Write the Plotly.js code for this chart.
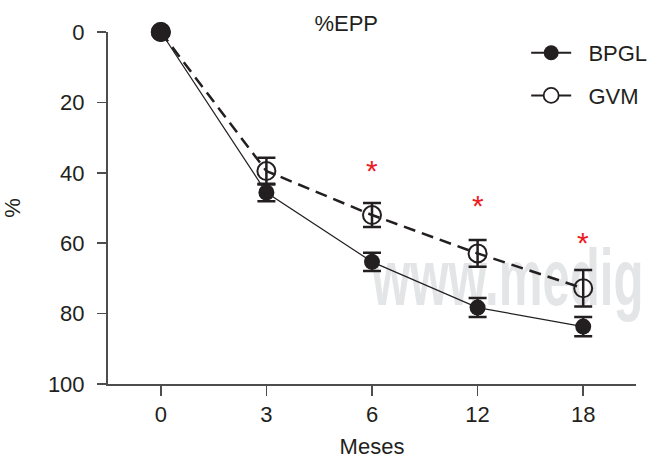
<!DOCTYPE html>
<html>
<head>
<meta charset="utf-8">
<script src="https://cdn.plot.ly/plotly-3.0.1.min.js"></script>
<style>html,body{margin:0;padding:0;background:#fff;}#chart{width:652px;height:462px;}</style>
</head>
<body>
<div id="chart"></div>
<script>
// ---- data ----
const months = ['0', '3', '6', '12', '18'];
const bpgl = [0, 45.6, 65.3, 78.3, 83.7];
const bpglErr = [0, 2.5, 2.6, 2.7, 2.7];
const gvm = [0, 39.5, 52.0, 62.9, 72.8];
const gvmErr = [0, 3.8, 3.4, 3.8, 5.2];
const sigMonths = ['6', '12', '18'];
const sigY = [39.3, 49.2, 59.8];
const seriesNames = ['BPGL', 'GVM'];
const watermark = 'www.medig';

const xi = months.map((m, i) => i);
const sigX = sigMonths.map(m => months.indexOf(m));
const ink = '#231f20';
const fam = '"Liberation Sans", Arial, Helvetica, sans-serif';
const nb = '\u00a0\u00a0';

const traces = [
  {
    x: [2.0], y: [72], mode: 'text', text: [watermark],
    textposition: 'middle right',
    textfont: {family: '"Liberation Sans", Arial, sans-serif', size: 80, color: '#e4e5e6', weight: 'bold'},
    cliponaxis: false, showlegend: false, hoverinfo: 'skip'
  },
  {
    name: seriesNames[1], x: xi, y: gvm, mode: 'lines+markers', showlegend: false,
    line: {color: ink, width: 2.5, dash: '12px,7px'},
    marker: {symbol: 'circle-open', size: 18, color: ink, opacity: 1, line: {width: 2, color: ink}},
    error_y: {type: 'data', array: gvmErr, visible: true, color: ink, thickness: 2.5, width: 9},
    cliponaxis: false
  },
  {
    name: seriesNames[0], x: xi, y: bpgl, mode: 'lines+markers', showlegend: false,
    line: {color: ink, width: 1.2},
    marker: {symbol: 'circle', size: [20, 16, 16, 16, 16], color: ink, opacity: 1, line: {width: 0}},
    error_y: {type: 'data', array: bpglErr, visible: true, color: ink, thickness: 2.5, width: 9},
    cliponaxis: false
  },
  // legend entries (solid short line through the marker, as in the reference key)
  {
    name: nb + seriesNames[0], legendgroup: 'b', legendrank: 1, x: [null], y: [null], mode: 'lines+markers',
    line: {color: ink, width: 2},
    marker: {symbol: 'circle', size: 15, color: ink, opacity: 1, line: {width: 0}}
  },
  {
    name: nb + seriesNames[1], legendgroup: 'g', legendrank: 2, x: [null], y: [null], mode: 'lines+markers',
    line: {color: ink, width: 2},
    marker: {symbol: 'circle', size: 15, color: '#ffffff', opacity: 1, line: {width: 1.8, color: ink}}
  }
];

const layout = {
  width: 652, height: 462,
  margin: {l: 108, r: 16, t: 32, b: 78, autoexpand: false},
  paper_bgcolor: '#fff', plot_bgcolor: 'rgba(0,0,0,0)',
  font: {family: fam, size: 22, color: ink},
  title: {text: '%EPP', x: 0.531, xref: 'container', xanchor: 'center', y: 0.95, yref: 'container', yanchor: 'middle', font: {size: 22, color: ink}},
  xaxis: {
    range: [-0.5, 4.5], tickmode: 'array', tickvals: xi, ticktext: months,
    showgrid: false, zeroline: false, showline: true, linecolor: '#4d4d4d', linewidth: 2,
    ticks: 'outside', ticklen: 10, tickwidth: 1.5, tickcolor: '#4d4d4d',
    tickfont: {size: 22, color: ink},
    title: {text: 'Meses', font: {size: 22, color: ink}, standoff: 12}
  },
  yaxis: {
    range: [100, 0], tickvals: [0, 20, 40, 60, 80, 100],
    showgrid: false, zeroline: false, showline: true, linecolor: '#4d4d4d', linewidth: 2,
    ticks: 'outside', ticklen: 9, tickwidth: 1.5, tickcolor: '#4d4d4d',
    tickfont: {size: 22, color: ink}, ticklabelstandoff: 8,
    title: {text: '%', font: {size: 22, color: ink}, standoff: 30}
  },
  legend: {
    x: 0.792, xanchor: 'left', y: 1.0, yanchor: 'top',
    traceorder: 'grouped', bgcolor: 'rgba(0,0,0,0)', borderwidth: 0,
    font: {size: 22, color: ink}, itemwidth: 40, tracegroupgap: 11
  },
  annotations: sigX.map((x, i) => ({
    x: x, y: sigY[i], xref: 'x', yref: 'y', text: '*', showarrow: false,
    font: {size: 30, color: '#ed1c24', family: fam}, yanchor: 'middle'
  })),
  showlegend: true
};

Plotly.newPlot('chart', traces, layout, {displayModeBar: false, staticPlot: true}).then(function (gd) {
  // horizontally condense the watermark text (kept as real SVG text)
  const t = gd.querySelector('.scatterlayer .trace:first-child .textpoint text');
  if (t) {
    const x0 = parseFloat(t.getAttribute('x')) || 0;
    t.setAttribute('transform', 'translate(' + x0 + ',0) scale(0.615,1) translate(' + (-x0) + ',0)');
  }
});
</script>
</body>
</html>
